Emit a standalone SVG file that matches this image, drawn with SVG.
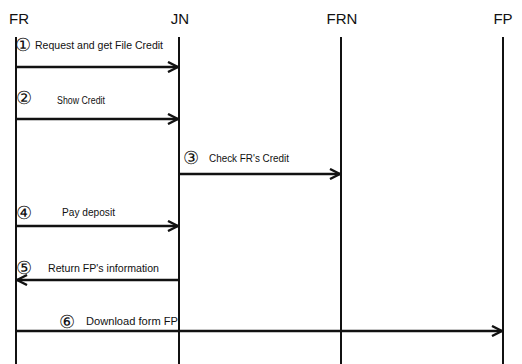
<svg xmlns="http://www.w3.org/2000/svg" width="522" height="364" viewBox="0 0 522 364">
<style>
.hdr{font-family:"Liberation Sans",Arial,sans-serif;font-size:15px;fill:#111;text-anchor:middle}
.lbl{font-family:"Liberation Sans",Arial,sans-serif;font-size:10px;fill:#111;lengthAdjust:spacingAndGlyphs}
.num{font-family:"DejaVu Serif","Liberation Serif",serif;font-size:18px;fill:#111}
.life{stroke:#111;stroke-width:2}
.msg{stroke:#111;stroke-width:2.6;fill:none;marker-end:url(#ah)}
</style>
<defs>
<marker id="ah" viewBox="0 0 12 12" refX="11" refY="6" markerWidth="12" markerHeight="12" markerUnits="userSpaceOnUse" orient="auto">
<polyline points="1,1 11,6 1,11" fill="none" stroke="#111" stroke-width="2.4"/>
</marker>
</defs>
<g id="FR"><text class="hdr" x="19" y="24">FR</text><line class="life" x1="16" y1="37" x2="16" y2="364"/></g>
<g id="JN"><text class="hdr" x="180" y="24">JN</text><line class="life" x1="179" y1="37" x2="179" y2="364"/></g>
<g id="FRN"><text class="hdr" x="342" y="24">FRN</text><line class="life" x1="341" y1="37" x2="341" y2="364"/></g>
<g id="FP"><text class="hdr" x="503" y="24">FP</text><line class="life" x1="503" y1="37" x2="503" y2="364"/></g>
<g id="connectors">
<line class="msg" x1="16" y1="67" x2="178" y2="67"/>
<line class="msg" x1="16" y1="119" x2="178" y2="119"/>
<line class="msg" x1="179" y1="174" x2="340" y2="174"/>
<line class="msg" x1="16" y1="226" x2="178" y2="226"/>
<line class="msg" x1="179" y1="280" x2="17" y2="280"/>
<line class="msg" x1="16" y1="331" x2="502" y2="331"/>
</g>
<g id="labels">
<text class="num" x="15" y="51">①</text><text class="lbl" x="35" y="49" textLength="128" lengthAdjust="spacingAndGlyphs">Request and get File Credit</text>
<text class="num" x="16" y="104">②</text><text class="lbl" x="57" y="104" textLength="48" lengthAdjust="spacingAndGlyphs">Show Credit</text>
<text class="num" x="183" y="164">③</text><text class="lbl" x="209" y="162" textLength="80" lengthAdjust="spacingAndGlyphs">Check FR's Credit</text>
<text class="num" x="16" y="219">④</text><text class="lbl" x="62" y="216" textLength="53" lengthAdjust="spacingAndGlyphs">Pay deposit</text>
<text class="num" x="16" y="274">⑤</text><text class="lbl" x="48" y="272" textLength="111" lengthAdjust="spacingAndGlyphs">Return FP's information</text>
<text class="num" x="59" y="328">⑥</text><text class="lbl" x="86" y="325" textLength="92" lengthAdjust="spacingAndGlyphs">Download form  FP</text>
</g>
</svg>
